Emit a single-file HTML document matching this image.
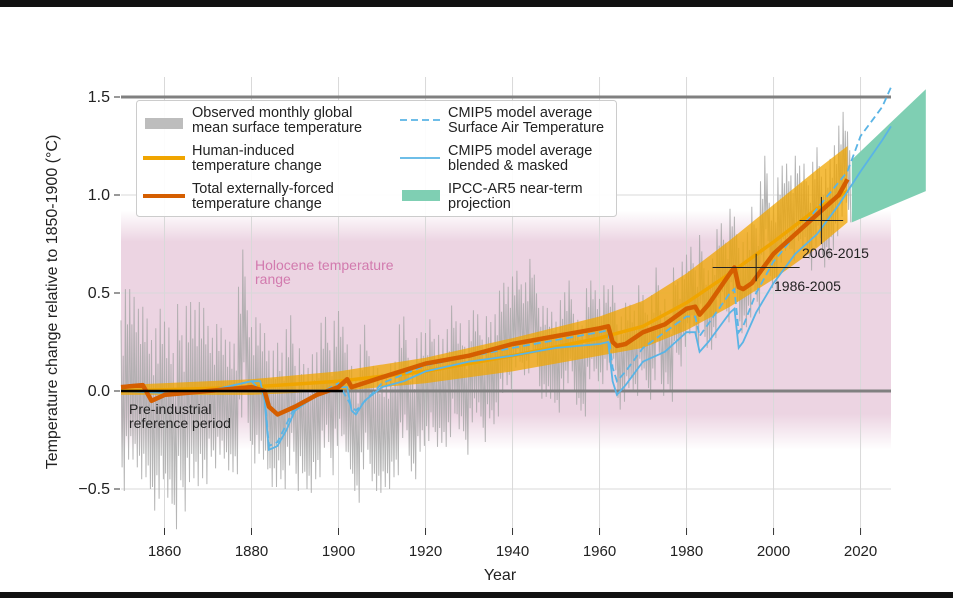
<!DOCTYPE html>
<html><head><meta charset="utf-8"><style>
html,body{margin:0;padding:0;background:#fff;}
body{width:953px;height:598px;overflow:hidden;position:relative;font-family:"Liberation Sans",sans-serif;}
.bar{position:absolute;left:0;width:953px;background:#111;}
</style></head><body>
<div class="bar" style="top:0;height:7px"></div>
<div class="bar" style="top:592px;height:6px"></div>
<svg id="chart" width="953" height="598" style="position:absolute;left:0;top:0">
<defs>
<linearGradient id="pinkg" x1="0" y1="0" x2="0" y2="1">
<stop offset="0" stop-color="#ecd4e2" stop-opacity="0"/>
<stop offset="0.13" stop-color="#ecd4e2" stop-opacity="1"/>
<stop offset="0.85" stop-color="#ecd4e2" stop-opacity="1"/>
<stop offset="1" stop-color="#ecd4e2" stop-opacity="0"/>
</linearGradient>
</defs>
</svg>
<script>
const years = [];
for (let y = 1850; y <= 2017; y++) years.push(y);
const obsAnnual = [-0.06,0.1,0.1,0.06,0.0,0.01,-0.05,-0.16,-0.1,0.0,-0.08,-0.11,-0.24,0.01,-0.15,0.0,0.02,-0.02,0.02,-0.01,
0.01,-0.05,0.02,0.0,-0.06,-0.07,-0.08,0.21,0.4,0.09,-0.01,0.04,0.01,-0.04,-0.13,-0.13,-0.09,-0.14,-0.02,0.05,
-0.18,-0.09,-0.17,-0.19,-0.12,-0.11,0.04,0.07,-0.1,0.05,0.1,0.02,-0.07,-0.18,-0.24,-0.07,0.03,-0.13,-0.18,-0.19,
-0.19,-0.2,-0.14,-0.13,0.06,0.1,-0.11,-0.15,-0.01,0.02,0.03,0.1,0.0,0.02,0.0,0.05,0.17,0.09,0.08,-0.04,
0.11,0.16,0.14,0.01,0.13,0.1,0.14,0.26,0.3,0.28,0.36,0.39,0.32,0.33,0.45,0.37,0.2,0.21,0.2,0.18,
0.13,0.24,0.28,0.34,0.17,0.14,0.11,0.3,0.34,0.29,0.26,0.33,0.31,0.33,0.13,0.17,0.24,0.23,0.2,0.33,
0.28,0.18,0.28,0.42,0.2,0.26,0.17,0.42,0.35,0.45,0.5,0.54,0.42,0.6,0.43,0.42,0.48,0.63,0.66,0.56,
0.72,0.68,0.52,0.55,0.6,0.73,0.62,0.86,0.99,0.75,0.74,0.88,0.94,0.95,0.89,0.99,0.94,0.95,0.84,0.96,
1.02,0.87,0.91,0.96,1.03,1.13,1.2,1.1];
const obsSpreadByDecade = [0.6,0.62,0.46,0.48,0.44,0.44,0.4,0.38,0.36,0.32,0.32,0.3,0.3,0.28,0.3,0.3,0.32];
const forcedYears = [1850,1855,1857,1860,1870,1880,1883,1884,1886,1890,1895,1900,1902,1903,1910,1920,1930,1940,1950,1960,1962,1963,1964,1966,1970,1975,1980,1982,1983,1985,1990,1991,1992,1993,1995,2000,2005,2010,2015,2017];
const forcedVals = [0.02,0.03,-0.05,-0.02,0.0,0.02,0.0,-0.08,-0.12,-0.08,-0.02,0.02,0.06,0.02,0.07,0.14,0.18,0.24,0.28,0.32,0.33,0.25,0.23,0.24,0.3,0.34,0.42,0.43,0.39,0.44,0.6,0.63,0.53,0.52,0.55,0.7,0.8,0.9,1.0,1.08];
const humanYears = [1850,1880,1900,1920,1940,1960,1970,1980,1990,2000,2010,2017];
const humanVals = [0.0,0.02,0.05,0.1,0.18,0.27,0.33,0.45,0.6,0.76,0.93,1.02];
const humanLow = [-0.02,-0.02,0.0,0.04,0.1,0.18,0.22,0.31,0.43,0.57,0.73,0.86];
const humanHigh = [0.03,0.06,0.1,0.17,0.27,0.38,0.46,0.6,0.77,0.95,1.13,1.25];
const blendYears = [1850,1860,1870,1880,1882,1883,1884,1886,1888,1890,1895,1900,1902,1903,1904,1906,1910,1915,1920,1930,1940,1950,1960,1962,1963,1964,1966,1970,1975,1980,1982,1983,1985,1990,1991,1992,1993,1996,2000,2005,2010,2015,2020,2025,2027];
const blendVals = [0.0,-0.01,0.0,0.05,0.05,-0.05,-0.3,-0.28,-0.2,-0.1,-0.02,0.02,0.02,-0.1,-0.12,-0.05,0.02,0.05,0.1,0.15,0.18,0.22,0.24,0.25,0.05,-0.02,0.03,0.15,0.2,0.3,0.3,0.2,0.25,0.4,0.42,0.22,0.25,0.4,0.55,0.7,0.8,0.95,1.12,1.28,1.35];
const satYears = [1850,1870,1880,1883,1884,1886,1890,1900,1903,1904,1910,1920,1940,1960,1962,1963,1964,1966,1970,1980,1982,1983,1990,1991,1992,1993,1996,2000,2010,2017,2020,2025,2027];
const satVals = [0.0,0.0,0.05,-0.02,-0.28,-0.26,-0.08,0.04,-0.08,-0.1,0.04,0.13,0.22,0.3,0.31,0.12,0.05,0.1,0.22,0.38,0.38,0.28,0.5,0.52,0.3,0.33,0.5,0.66,0.93,1.12,1.3,1.45,1.55];
const projYears = [2018,2035];
const projLow = [0.86,1.02];
const projHigh = [1.18,1.54];
const xTicks = [1860,1880,1900,1920,1940,1960,1980,2000,2020];
const yTicks = [-0.5,0.0,0.5,1.0,1.5];
const yTickLabels = ["\u22120.5","0.0","0.5","1.0","1.5"];

const NS = "http://www.w3.org/2000/svg";
const svg = document.getElementById('chart');
const X0 = 121, X1 = 891, XMIN = 1850, XMAX = 2027;
function xs(v){ return X0 + (v - XMIN) * (X1 - X0) / (XMAX - XMIN); }
function ys(v){ return 391 - v * 196; }
function mk(tag, attrs, parent){ const e = document.createElementNS(NS, tag); for (const k in attrs) e.setAttribute(k, attrs[k]); (parent||svg).appendChild(e); return e; }
function pts(xa, va){ return xa.map((x,i)=> xs(x).toFixed(1)+','+ys(va[i]).toFixed(1)).join(' '); }

let el = mk('rect',{x:X0,y:ys(0.92),width:X1-X0,height:ys(-0.3)-ys(0.92),fill:'url(#pinkg)'});


xTicks.forEach(t=>{
  const g = mk('line',{x1:xs(t),x2:xs(t),y1:77,y2:528,stroke:'#d9d9d9','stroke-width':1});
  
  
  const tk = mk('line',{x1:xs(t),x2:xs(t),y1:528,y2:535,stroke:'#333','stroke-width':1});
  
  
  const tx = mk('text',{x:xs(t),y:556,'text-anchor':'middle','font-size':15,fill:'#222'});
  tx.textContent = t;
  
  
});
yTicks.forEach((t,i)=>{
  const g = mk('line',{x1:X0,x2:X1,y1:ys(t),y2:ys(t),stroke:'#d9d9d9','stroke-width':1});
  
  
  const tk = mk('line',{x1:114,x2:120,y1:ys(t),y2:ys(t),stroke:'#333','stroke-width':1});
  
  
  const tx = mk('text',{x:110,y:ys(t)+5,'text-anchor':'end','font-size':16,fill:'#222'});
  tx.textContent = yTickLabels[i];
  
  
});
el = mk('polygon',{points: pts(projYears, projLow)+' '+pts(projYears.slice().reverse(), projHigh.slice().reverse()), fill:'#7fcfb3'});


let op = [];
years.forEach((y,i)=>{
  const s = obsSpreadByDecade[Math.floor(i/10)];
  const v = obsAnnual[i];
  op.push(xs(y).toFixed(1)+','+ys(v+s*0.7).toFixed(1));
  op.push(xs(y+0.25).toFixed(1)+','+ys(v-s*0.55).toFixed(1));
  op.push(xs(y+0.5).toFixed(1)+','+ys(v+s*0.4).toFixed(1));
  op.push(xs(y+0.75).toFixed(1)+','+ys(v-s*0.75).toFixed(1));
});
el = mk('polyline',{points:op.join(' '),fill:'none',stroke:'#a8a8a8','stroke-width':1,'stroke-opacity':0.85});


el = mk('polygon',{points: pts(humanYears, humanLow)+' '+pts(humanYears.slice().reverse(), humanHigh.slice().reverse()), fill:'#f0a500','fill-opacity':0.75});


el = mk('line',{x1:X0,x2:X1,y1:ys(1.5),y2:ys(1.5),stroke:'#808080','stroke-width':3});


el = mk('line',{x1:X0,x2:X1,y1:ys(0),y2:ys(0),stroke:'#808080','stroke-width':3});


el = mk('polyline',{points:pts(humanYears,humanVals),fill:'none',stroke:'#f0a500','stroke-width':3.5});


el = mk('polyline',{points:pts(satYears,satVals),fill:'none',stroke:'#5ab4e5','stroke-width':1.8,'stroke-dasharray':'7,4'});


el = mk('polyline',{points:pts(blendYears,blendVals),fill:'none',stroke:'#5ab4e5','stroke-width':1.8});


el = mk('polyline',{points:pts(forcedYears,forcedVals),fill:'none',stroke:'#d55e00','stroke-width':4.5,'stroke-linejoin':'round'});


el = mk('line',{x1:xs(1850),x2:xs(1901),y1:ys(0),y2:ys(0),stroke:'#000','stroke-width':2.5});


function cross(name, y0, y1, yc, vv, dv){
  const g = mk('g',{stroke:'#222','stroke-width':1});
  
  
  mk('line',{x1:xs(y0),x2:xs(y1),y1:ys(vv),y2:ys(vv)},g);
  mk('line',{x1:xs(yc),x2:xs(yc),y1:ys(vv+dv),y2:ys(vv-dv)},g);
}
cross('crosshair-1986-2005',1986,2006,1996,0.63,0.07);
cross('crosshair-2006-2015',2006,2016,2011,0.87,0.12);
function label(name,x,y,lines,color,size){
  const t = mk('text',{x:x,y:y,'font-size':size,fill:color});
  
  
  lines.forEach((l,i)=>{ const s = mk('tspan',{x:x,dy:i?size+0:0},t); s.textContent=l; });
}
label('label-2006-2015',802,258,['2006-2015'],'#222',14);
label('label-1986-2005',774,291,['1986-2005'],'#222',14);
label('holocene-label',255,270,['Holocene temperature','range'],'#d27aae',14);
label('preindustrial-label',129,414,['Pre-industrial','reference period'],'#222',14);
el = mk('text',{x:X0+(X1-X0)/2-6,y:580,'text-anchor':'middle','font-size':16,fill:'#222'});
el.textContent='Year';


el = mk('text',{x:0,y:0,'text-anchor':'middle','font-size':16,fill:'#222',transform:'translate(57,302) rotate(-90)'});
el.textContent='Temperature change relative to 1850-1900 (\u00B0C)';


const lg = mk('g',{});


mk('rect',{x:136.5,y:100.5,width:480,height:116,rx:3,fill:'#fff','fill-opacity':0.92,stroke:'#ccc'},lg);
const entries = [
 ['legend-observed',143,124,'rect','#bdbdbd',['Observed monthly global','mean surface temperature'],192,117],
 ['legend-human',143,158,'line','#f0a500',['Human-induced','temperature change'],192,155],
 ['legend-forced',143,196,'line','#d55e00',['Total externally-forced','temperature change'],192,193],
 ['legend-cmip5-sat',400,120,'dash','#5ab4e5',['CMIP5 model average','Surface Air Temperature'],448,117],
 ['legend-cmip5-blended',400,158,'thin','#5ab4e5',['CMIP5 model average','blended & masked'],448,155],
 ['legend-ipcc',400,196,'rect','#7fcfb3',['IPCC-AR5 near-term','projection'],448,193]
];
entries.forEach(e=>{
  const g = mk('g',{},lg);
  
  
  const x=e[1], y=e[2];
  if(e[3]==='rect') mk('rect',{x:x+2,y:y-6,width:38,height:11,fill:e[4]},g);
  else if(e[3]==='line') mk('line',{x1:x,x2:x+42,y1:y,y2:y,stroke:e[4],'stroke-width':4},g);
  else if(e[3]==='dash') mk('line',{x1:x,x2:x+40,y1:y,y2:y,stroke:e[4],'stroke-width':1.8,'stroke-dasharray':'7,4'},g);
  else mk('line',{x1:x,x2:x+40,y1:y,y2:y,stroke:e[4],'stroke-width':1.8},g);
  const t = mk('text',{x:e[6],y:e[7],'font-size':14.5,fill:'#222'},g);
  e[5].forEach((l,i)=>{ const s = mk('tspan',{x:e[6],dy:i?15:0},t); s.textContent=l; });
});
</script>
</body></html>
